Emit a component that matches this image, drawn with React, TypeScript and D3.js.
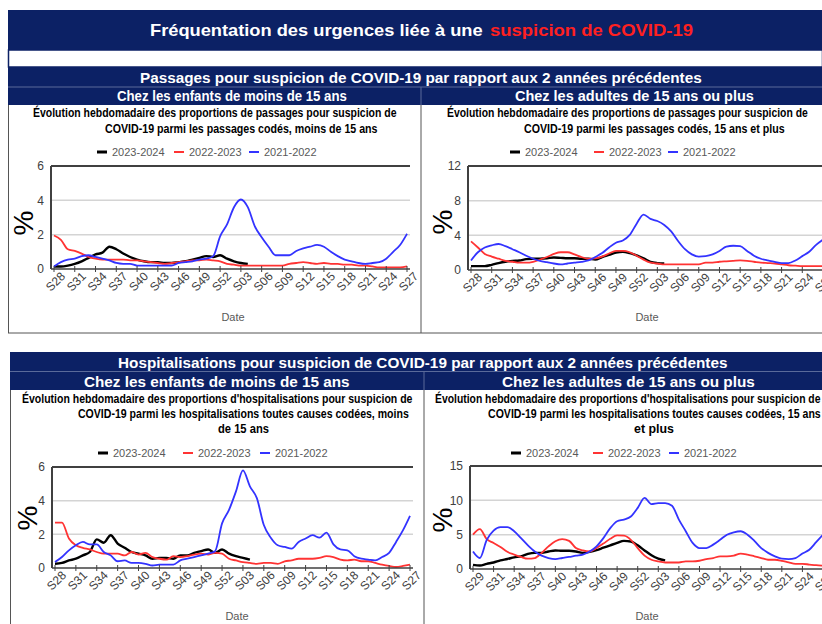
import React from "react";
import * as d3 from "d3";

const weeks = ["S28","S29","S30","S31","S32","S33","S34","S35","S36","S37","S38","S39","S40","S41","S42","S43","S44","S45","S46","S47","S48","S49","S50","S51","S52","S01","S02","S03","S04","S05","S06","S07","S08","S09","S10","S11","S12","S13","S14","S15","S16","S17","S18","S19","S20","S21","S22","S23","S24","S25","S26","S27"];
const tickWeeks = ["S28","S31","S34","S37","S40","S43","S46","S49","S52","S03","S06","S09","S12","S15","S18","S21","S24","S27"];
const tickTextHospAdultes = ["S29","S31","S34","S37","S40","S43","S46","S49","S52","S03","S06","S09","S12","S15","S18","S21","S24","S27"];
const seriesNames = ["2023-2024","2022-2023","2021-2022"];
const seriesColors = ["#000000","#ff3333","#3333ff"];

// Passages, moins de 15 ans
const passEnfants2324 = [0.15,0.15,0.2,0.3,0.45,0.65,0.85,0.95,1.3,1.15,0.9,0.7,0.55,0.45,0.4,0.4,0.35,0.35,0.4,0.45,0.55,0.65,0.75,0.7,0.8,0.6,0.45,0.35,0.3];
const passEnfants2223 = [1.95,1.7,1.15,1.05,0.9,0.7,0.6,0.55,0.55,0.55,0.55,0.5,0.5,0.45,0.4,0.35,0.3,0.35,0.4,0.45,0.5,0.5,0.55,0.5,0.45,0.3,0.25,0.2,0.2,0.2,0.2,0.2,0.2,0.2,0.3,0.35,0.4,0.35,0.3,0.35,0.3,0.3,0.25,0.25,0.2,0.2,0.15,0.1,0.1,0.1,0.1,0.15];
const passEnfants2122 = [0.15,0.4,0.55,0.6,0.75,0.8,0.7,0.6,0.5,0.35,0.3,0.3,0.2,0.2,0.2,0.2,0.2,0.2,0.35,0.4,0.45,0.55,0.6,0.75,1.9,2.6,3.6,4.05,3.6,2.5,1.85,1.3,0.8,0.8,0.8,1.05,1.2,1.3,1.4,1.3,1.0,0.75,0.55,0.45,0.35,0.3,0.35,0.4,0.6,1.0,1.4,2.05];

// Passages, 15 ans et plus
const passAdultes2324 = [0.45,0.45,0.45,0.6,0.8,0.95,1.05,1.1,1.25,1.3,1.3,1.35,1.45,1.4,1.35,1.35,1.3,1.3,1.2,1.5,1.75,2.0,2.1,1.95,1.7,1.35,0.95,0.8,0.75];
const passAdultes2223 = [3.3,2.6,1.85,1.55,1.3,1.05,0.95,0.85,0.85,0.95,1.2,1.5,1.85,2.05,2.05,1.8,1.5,1.3,1.35,1.55,1.9,2.2,2.2,2.05,1.65,1.2,0.85,0.75,0.65,0.65,0.65,0.65,0.65,0.65,0.85,0.85,0.95,1.0,1.05,1.1,1.05,0.95,0.85,0.8,0.75,0.65,0.55,0.5,0.45,0.45,0.45,0.45];
const passAdultes2122 = [1.1,2.05,2.6,2.85,3.0,2.75,2.4,2.05,1.65,1.3,1.05,0.9,0.75,0.65,0.75,0.85,0.95,1.1,1.5,1.95,2.6,3.15,3.4,4.05,5.35,6.4,5.9,5.65,5.2,4.45,3.35,2.4,1.8,1.55,1.6,1.8,2.2,2.7,2.8,2.75,2.2,1.65,1.3,1.1,0.95,0.8,0.8,1.1,1.6,2.1,2.9,3.5];

// Hospitalisations, moins de 15 ans
const hospEnfants2324 = [0.25,0.3,0.45,0.55,0.75,0.95,1.7,1.5,1.95,1.45,1.2,0.95,0.85,0.75,0.55,0.6,0.6,0.55,0.75,0.75,0.9,1.0,1.1,0.9,1.1,0.85,0.7,0.6,0.5];
const hospEnfants2223 = [2.7,2.7,1.75,1.35,1.2,1.1,0.95,0.85,0.85,0.85,0.75,0.95,0.8,0.9,0.65,0.55,0.5,0.7,0.65,0.7,0.8,0.85,0.8,0.9,0.85,0.55,0.45,0.35,0.3,0.25,0.3,0.3,0.25,0.4,0.45,0.55,0.55,0.55,0.6,0.7,0.65,0.5,0.45,0.5,0.4,0.4,0.3,0.2,0.12,0.06,0.12,0.2];
const hospEnfants2122 = [0.35,0.65,1.05,1.35,1.55,1.4,1.4,0.95,0.75,0.4,0.45,0.3,0.3,0.25,0.15,0.2,0.2,0.2,0.45,0.55,0.65,0.75,0.85,1.0,2.65,3.45,4.55,5.8,4.85,4.15,2.55,1.8,1.35,1.25,1.15,1.55,1.75,1.95,1.8,2.1,1.4,1.1,1.05,0.7,0.55,0.5,0.45,0.65,0.9,1.55,2.25,3.1];

// Hospitalisations, 15 ans et plus
const hospAdultes2324 = [0.6,0.5,0.75,0.95,1.25,1.45,1.7,1.85,2.2,2.35,2.35,2.55,2.7,2.65,2.65,2.55,2.35,2.5,2.75,3.1,3.45,3.8,4.1,4.0,3.45,2.7,2.0,1.5,1.25];
const hospAdultes2223 = [5.0,5.8,4.35,3.8,3.2,2.5,2.1,1.75,1.5,1.6,2.35,3.3,4.05,4.35,4.1,3.05,2.7,2.55,3.05,3.7,4.4,4.9,4.85,4.25,3.05,1.95,1.35,1.1,0.95,0.95,0.95,1.1,1.1,1.2,1.45,1.6,1.85,1.85,1.95,2.25,2.1,1.85,1.6,1.35,1.35,1.2,0.95,0.75,0.75,0.65,0.55,0.5];
const hospAdultes2122 = [2.55,1.6,4.25,5.6,6.1,6.1,5.5,4.5,3.45,2.55,1.95,1.6,1.45,1.6,1.75,1.95,2.1,2.55,3.3,4.5,5.95,6.95,7.2,7.65,8.9,10.35,9.45,9.6,9.6,9.2,7.2,5.5,3.8,3.05,3.05,3.55,4.25,5.0,5.35,5.5,5.0,4.1,3.05,2.35,1.85,1.5,1.45,1.6,2.25,2.8,3.9,5.0];

const NAVY = "#0c2165";
const FONT = "'Liberation Sans', Arial, sans-serif";

let measureCtx: CanvasRenderingContext2D | null = null;
function measure(text: string, size: number, bold: boolean): number {
  if (!measureCtx) {
    const cv = document.createElement("canvas");
    measureCtx = cv.getContext("2d");
  }
  if (!measureCtx) return text.length * size * 0.55;
  measureCtx.font = `${bold ? "bold " : ""}${size}px 'Liberation Sans', Arial, sans-serif`;
  return measureCtx.measureText(text).width;
}

function FitText({ text, x1, x2, y, size, bold, fill }:
  { text: string; x1: number; x2: number; y: number; size: number; bold?: boolean; fill: string }) {
  const w = measure(text, size, !!bold);
  const sx = w > 0 ? (x2 - x1) / w : 1;
  return (
    <text transform={`translate(${x1},${y}) scale(${sx},1)`} fontFamily={FONT}
      fontWeight={bold ? "bold" : "normal"} fontSize={size} fill={fill}>{text}</text>
  );
}

type TitleLine = { text: string; x1: number; x2: number; y: number };
type ChartCfg = {
  id: string;
  titles: TitleLine[];
  legendY: number;
  legendX: number[];
  plot: { l: number; r: number; t: number; b: number };
  yTicks: number[];
  data: number[][];
  tickText: string[];
  pct: { x: number; y: number };
  date: { x: number; y: number };
};

const charts: ChartCfg[] = [
  {
    id: "tl",
    titles: [
      { text: "Évolution hebdomadaire des proportions de passages pour suspicion de", x1: 33, x2: 397, y: 117 },
      { text: "COVID-19 parmi les passages codés, moins de 15 ans", x1: 105, x2: 378, y: 133 },
    ],
    legendY: 152,
    legendX: [97, 174, 249],
    plot: { l: 51, r: 410, t: 166, b: 269 },
    yTicks: [0, 2, 4, 6],
    data: [passEnfants2324, passEnfants2223, passEnfants2122],
    tickText: tickWeeks,
    pct: { x: 23, y: 223 },
    date: { x: 233, y: 321 },
  },
  {
    id: "tr",
    titles: [
      { text: "Évolution hebdomadaire des proportions de passages pour suspicion de", x1: 447, x2: 808, y: 117 },
      { text: "COVID-19 parmi les passages codés, 15 ans et plus", x1: 524, x2: 785, y: 133 },
    ],
    legendY: 152,
    legendX: [510, 594, 668],
    plot: { l: 468, r: 826, t: 166, b: 270 },
    yTicks: [0, 4, 8, 12],
    data: [passAdultes2324, passAdultes2223, passAdultes2122],
    tickText: tickWeeks,
    pct: { x: 442, y: 222 },
    date: { x: 647, y: 321 },
  },
  {
    id: "bl",
    titles: [
      { text: "Évolution hebdomadaire des proportions d'hospitalisations pour suspicion de", x1: 22, x2: 413, y: 403 },
      { text: "COVID-19 parmi les hospitalisations toutes causes codées, moins", x1: 78, x2: 409, y: 418 },
      { text: "de 15 ans", x1: 218, x2: 269, y: 433 },
    ],
    legendY: 453,
    legendX: [98, 183, 260],
    plot: { l: 52, r: 413, t: 467, b: 568 },
    yTicks: [0, 2, 4, 6],
    data: [hospEnfants2324, hospEnfants2223, hospEnfants2122],
    tickText: tickWeeks,
    pct: { x: 27, y: 518 },
    date: { x: 237, y: 620 },
  },
  {
    id: "br",
    titles: [
      { text: "Évolution hebdomadaire des proportions d'hospitalisations pour suspicion de", x1: 435, x2: 821, y: 403 },
      { text: "COVID-19 parmi les hospitalisations toutes causes codées, 15 ans", x1: 488, x2: 821, y: 418 },
      { text: "et plus", x1: 634, x2: 674, y: 433 },
    ],
    legendY: 453,
    legendX: [511, 593, 669],
    plot: { l: 470, r: 826, t: 466, b: 569 },
    yTicks: [0, 5, 10, 15],
    data: [hospAdultes2324, hospAdultes2223, hospAdultes2122],
    tickText: tickTextHospAdultes,
    pct: { x: 442, y: 520 },
    date: { x: 647, y: 620 },
  },
];

function Chart({ c }: { c: ChartCfg }) {
  const { l, r, t, b } = c.plot;
  const x = d3.scalePoint<string>().domain(weeks).range([l + 3, r - 3]);
  const y = d3.scaleLinear().domain([0, c.yTicks[c.yTicks.length - 1]]).range([b, t]);
  const line = d3
    .line<number>()
    .x((_, i) => x(weeks[i]) as number)
    .y((d) => y(d))
    .curve(d3.curveMonotoneX);
  return (
    <g>
      {c.titles.map((tl, i) => (
        <FitText key={i} text={tl.text} x1={tl.x1} x2={tl.x2} y={tl.y} size={12} bold fill="#000" />
      ))}
      {seriesNames.map((n, i) => (
        <g key={n}>
          <line x1={c.legendX[i]} x2={c.legendX[i] + 10} y1={c.legendY} y2={c.legendY}
            stroke={seriesColors[i]} strokeWidth={i === 0 ? 3 : 2} />
          <text x={c.legendX[i] + 15} y={c.legendY + 4} fontFamily={FONT} fontSize={11} fill="#595959">{n}</text>
        </g>
      ))}
      {c.yTicks.slice(1, -1).map((v) => (
        <line key={v} x1={l} x2={r} y1={y(v)} y2={y(v)} stroke="#d4d4d4" strokeWidth={1.5} />
      ))}
      <line x1={l} x2={r} y1={t} y2={t} stroke="#404040" strokeWidth={2} />
      <line x1={l} x2={l} y1={t} y2={b} stroke="#404040" strokeWidth={2} />
      {c.yTicks.map((v) => (
        <text key={v} x={l - 7} y={y(v)} dy="0.35em" textAnchor="end" fontFamily={FONT} fontSize={12} fill="#404040">{v}</text>
      ))}
      <g clipPath="url(#clipAll)">
        {c.data.map((d, i) => (
          <path key={i} d={line(d) || ""} fill="none" stroke={seriesColors[i]} strokeWidth={i === 0 ? 2.4 : 1.8} strokeLinejoin="round" />
        ))}
      </g>
      <line x1={l} x2={r} y1={b} y2={b} stroke="#404040" strokeWidth={1.5} />
      {tickWeeks.map((w, i) => {
        const tx = x(w) as number;
        return (
          <g key={w}>
            <line x1={tx} x2={tx} y1={b - 3} y2={b + 3} stroke="#404040" strokeWidth={1} />
            <text transform={`translate(${tx + 9},${b + 5}) rotate(-45)`} dy="0.35em" textAnchor="end"
              fontFamily={FONT} fontSize={12} fill="#404040">{c.tickText[i]}</text>
          </g>
        );
      })}
      <text transform={`translate(${c.pct.x},${c.pct.y}) rotate(-90)`} textAnchor="middle" dy="0.35em"
        fontFamily={FONT} fontSize={28} fill="#000">%</text>
      <text x={c.date.x} y={c.date.y} textAnchor="middle" fontFamily={FONT} fontSize={11} fill="#595959">Date</text>
    </g>
  );
}

export default function App() {
  return (
    <svg width={822} height={624} viewBox="0 0 822 624"
      style={{ position: "absolute", left: 0, top: 0, background: "#fff" }}>
      <defs>
        <clipPath id="clipAll"><rect x={0} y={0} width={822} height={624} /></clipPath>
      </defs>
      <rect x={0} y={0} width={822} height={624} fill="#fff" />
      {/* Top title block */}
      <rect x={8} y={10} width={814} height={40} fill={NAVY} />
      <rect x={8.5} y={50} width={814} height={17} fill="#fff" stroke={NAVY} strokeWidth={1.5} />
      <FitText text="Fréquentation des urgences liée à une" x1={150} x2={483} y={36} size={17} bold fill="#fff" />
      <FitText text="suspicion de COVID-19" x1={490} x2={693} y={36} size={17} bold fill="#ff2020" />
      {/* Passages header */}
      <rect x={8} y={67} width={814} height={38} fill={NAVY} />
      <line x1={8} x2={822} y1={87} y2={87} stroke="#5a6a9a" strokeWidth={1} />
      <line x1={421} x2={421} y1={87} y2={105} stroke="#5a6a9a" strokeWidth={1} />
      <FitText text="Passages pour suspicion de COVID-19 par rapport aux 2 années précédentes" x1={140} x2={702} y={83} size={14} bold fill="#fff" />
      <FitText text="Chez les enfants de moins de 15 ans" x1={117} x2={347} y={101} size={14} bold fill="#fff" />
      <FitText text="Chez les adultes de 15 ans ou plus" x1={515} x2={754} y={101} size={14} bold fill="#fff" />
      {/* top panel borders */}
      <line x1={8.5} x2={8.5} y1={105} y2={333} stroke="#555" strokeWidth={1} />
      <line x1={421} x2={421} y1={105} y2={333} stroke="#555" strokeWidth={1} />
      <line x1={8} x2={822} y1={333} y2={333} stroke="#555" strokeWidth={1} />
      {/* Hospitalisations header */}
      <rect x={10} y={352} width={812} height={38} fill={NAVY} />
      <line x1={10} x2={822} y1={371.5} y2={371.5} stroke="#5a6a9a" strokeWidth={1} />
      <line x1={424} x2={424} y1={372} y2={390} stroke="#5a6a9a" strokeWidth={1} />
      <FitText text="Hospitalisations pour suspicion de COVID-19 par rapport aux 2 années précédentes" x1={118} x2={728} y={368} size={15} bold fill="#fff" />
      <FitText text="Chez les enfants de moins de 15 ans" x1={84} x2={350} y={387} size={15} bold fill="#fff" />
      <FitText text="Chez les adultes de 15 ans ou plus" x1={502} x2={755} y={387} size={15} bold fill="#fff" />
      <line x1={10.5} x2={10.5} y1={390} y2={624} stroke="#555" strokeWidth={1} />
      <line x1={424} x2={424} y1={390} y2={624} stroke="#555" strokeWidth={1} />
      {charts.map((c) => (
        <Chart key={c.id} c={c} />
      ))}
    </svg>
  );
}
